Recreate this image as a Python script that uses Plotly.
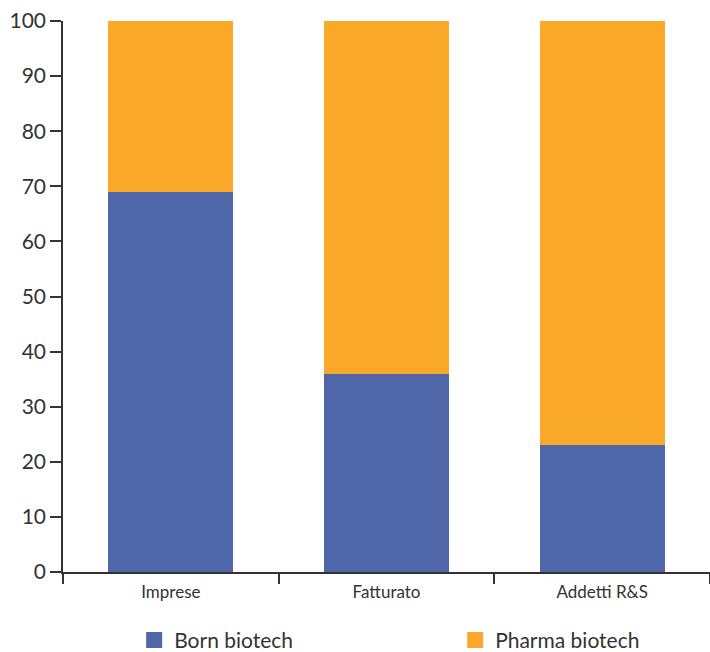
import plotly.graph_objects as go

categories = ["Imprese", "Fatturato", "Addetti R&S"]
born = [69, 36, 23]
pharma = [31, 64, 77]
series_names = ["Born biotech", "Pharma biotech"]
colors = ["#4F67A8", "#F9A828"]
y_ticks = [0, 10, 20, 30, 40, 50, 60, 70, 80, 90, 100]

fig = go.Figure()
for name, vals, col in zip(series_names, [born, pharma], colors):
    fig.add_trace(go.Bar(x=categories, y=vals, name=name, marker_color=col,
                         marker_line_width=0, showlegend=False, width=0.58))
# legend proxies with larger square symbols
for name, col in zip(series_names, colors):
    fig.add_trace(go.Scatter(x=[None], y=[None], mode="markers", name=name,
                             marker=dict(symbol="square", size=19, color=col),
                             showlegend=True))

font_family = "Lato, 'DejaVu Sans', sans-serif"
fig.update_layout(
    barmode="stack",
    width=710, height=652,
    margin=dict(l=63, r=0, t=21, b=80, autoexpand=False),
    plot_bgcolor="white", paper_bgcolor="white",
    font=dict(family=font_family, color="#333333"),
    showlegend=True,
    legend=dict(orientation="h", x=0.110, xanchor="left", y=-0.0870, yanchor="top",
                entrywidth=276, entrywidthmode="pixels", traceorder="normal",
                font=dict(size=21, color="#333333"), itemwidth=30),
)
fig.update_xaxes(showline=True, linecolor="#333333", linewidth=1.5,
                 ticks="outside", ticklen=10, tickcolor="#333333", tickwidth=1.5,
                 tickson="boundaries", tickfont=dict(size=17, color="#333333"),
                 ticklabelstandoff=4,
                 range=[-0.5, 2.5], showgrid=False, automargin=False)
fig.update_yaxes(showline=True, linecolor="#333333", linewidth=1.5,
                 ticks="outside", ticklen=11, tickcolor="#333333", tickwidth=1.5,
                 tickvals=y_ticks, range=[0, 100], showgrid=False, zeroline=False,
                 tickfont=dict(size=21, color="#333333"), automargin=False)
fig.write_html("out.html",
               config={"displayModeBar": False},
               post_script="document.body.style.margin='0';document.body.style.overflow='hidden';")
